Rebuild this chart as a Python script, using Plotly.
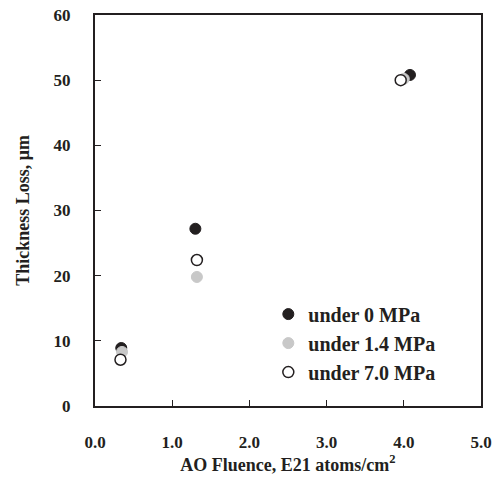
import plotly.graph_objects as go

series_names = ["under 0 MPa", "under 1.4 MPa", "under 7.0 MPa"]
x_0mpa = [0.34, 1.30, 4.08]
y_0mpa = [8.9, 27.2, 50.8]
x_14mpa = [0.35, 1.32, 4.0]
y_14mpa = [8.3, 19.8, 50.2]
x_70mpa = [0.33, 1.32, 3.96]
y_70mpa = [7.1, 22.4, 50.0]
x_ticks = [0, 1, 2, 3, 4, 5]
x_ticktext = ["0.0", "1.0", "2.0", "3.0", "4.0", "5.0"]
y_ticks = [0, 10, 20, 30, 40, 50, 60]

font_family = "Liberation Serif"
ink = "#231f20"
fig = go.Figure()
fig.add_trace(go.Scatter(x=x_0mpa, y=y_0mpa, mode="markers", name=series_names[0],
                         marker=dict(size=11, color=ink, line=dict(width=1, color=ink))))
fig.add_trace(go.Scatter(x=x_14mpa, y=y_14mpa, mode="markers", name=series_names[1],
                         marker=dict(size=11, color="#c8c8c8", line=dict(width=1, color="#c8c8c8"))))
fig.add_trace(go.Scatter(x=x_70mpa, y=y_70mpa, mode="markers", name=series_names[2],
                         marker=dict(size=11, color="white", line=dict(width=1.5, color=ink))))

tickfont = dict(family=font_family, size=17, color=ink, weight="bold")
titlefont = dict(family=font_family, size=18, color=ink, weight="bold")

fig.update_layout(
    width=500, height=484,
    margin=dict(l=95, r=19, t=15, b=78),
    paper_bgcolor="white", plot_bgcolor="white",
    font=dict(family=font_family, size=15, color=ink),
    showlegend=True,
    legend=dict(x=0.449, y=0.285, xanchor="left", yanchor="top",
                font=dict(family=font_family, size=20, color=ink, weight="bold"),
                bgcolor="rgba(0,0,0,0)", tracegroupgap=0, itemwidth=30),
    xaxis=dict(range=[0, 5], tickvals=x_ticks, ticktext=x_ticktext,
               ticks="inside", ticklen=6, tickcolor=ink, tickwidth=1,
               showline=True, linecolor=ink, linewidth=2, mirror=True,
               showgrid=False, zeroline=False, ticklabelstandoff=20, automargin=False,
               tickfont=tickfont,
               title=dict(text="AO Fluence, E21 atoms/cm<sup>2</sup>", standoff=5, font=titlefont)),
    yaxis=dict(range=[0, 60], tickvals=y_ticks,
               ticks="inside", ticklen=6, tickcolor=ink, tickwidth=1,
               showline=True, linecolor=ink, linewidth=2, mirror=True,
               showgrid=False, zeroline=False, ticklabelstandoff=19, automargin=False,
               tickfont=tickfont,
               title=dict(text="Thickness Loss, μm", standoff=19, font=titlefont)),
)
fig.write_html("out.html", config={"displayModeBar": False},
               post_script="document.body.style.margin='0px';")
